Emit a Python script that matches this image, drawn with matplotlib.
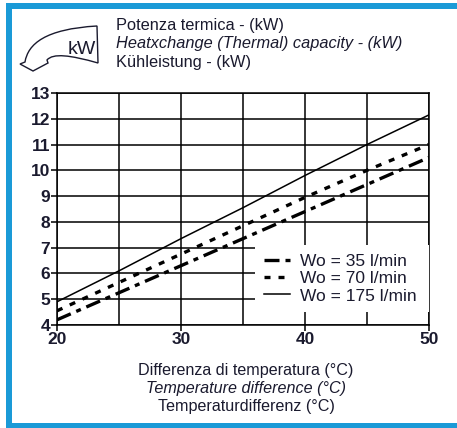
import matplotlib.pyplot as plt
from matplotlib.path import Path
from matplotlib.patches import PathPatch, Rectangle

# values
temp_diff = [20, 25, 30, 35, 40, 45, 50]
power_35 = [4.2, 5.25, 6.3, 7.35, 8.4, 9.45, 10.5]
power_70 = [4.55, 5.65, 6.75, 7.85, 8.95, 10.0, 11.0]
power_175 = [4.9, 6.1, 7.35, 8.55, 9.8, 11.0, 12.15]
series_labels = ["Wo = 35 l/min", "Wo = 70 l/min", "Wo = 175 l/min"]

title_lines = ["Potenza termica - (kW)",
               "Heatxchange (Thermal) capacity - (kW)",
               "Kühleistung - (kW)"]
xlabel_lines = ["Differenza di temperatura (°C)",
                "Temperature difference (°C)",
                "Temperaturdifferenz (°C)"]

INK = "#1a1a2e"
BLUE = "#1a9ad7"
plt.rcParams["font.family"] = ["Liberation Sans", "DejaVu Sans"]

fig = plt.figure(figsize=(4.57, 4.28), dpi=100)

# overlay in pixel coords for frame + icon
deco = fig.add_axes([0, 0, 1, 1])
deco.set_xlim(0, 457)
deco.set_ylim(428, 0)
deco.axis("off")
deco.add_patch(Rectangle((6, 3), 451, 6, color=BLUE, lw=0))
deco.add_patch(Rectangle((6, 3), 6, 425, color=BLUE, lw=0))
deco.add_patch(Rectangle((6, 423), 451, 5, color=BLUE, lw=0))

verts = [(25, 62), (28, 44), (45, 29), (97, 26),
         (98, 63),
         (70, 55), (53, 53), (47, 60),
         (48, 63), (33, 71), (20, 64), (25, 62)]
codes = [Path.MOVETO, Path.CURVE4, Path.CURVE4, Path.CURVE4,
         Path.LINETO,
         Path.CURVE4, Path.CURVE4, Path.CURVE4,
         Path.LINETO, Path.LINETO, Path.LINETO, Path.CLOSEPOLY]
deco.add_patch(PathPatch(Path(verts, codes), facecolor="white", edgecolor=INK, lw=1.0))
deco.text(82, 49, "kW", fontsize=14, color=INK, ha="center", va="center")

for i, line in enumerate(title_lines):
    deco.text(116, 25 + i * 18.5, line, fontsize=11.8, color=INK, va="center",
              style="italic" if i == 1 else "normal")
for i, line in enumerate(xlabel_lines):
    deco.text(246, 370 + i * 18.5, line, fontsize=11.6, color=INK, va="center", ha="center",
              style="italic" if i == 1 else "normal")

ax = fig.add_axes([0.1247, 0.2407, 0.814, 0.542])
ax.plot(temp_diff, power_35, color="black", lw=2.4, dashes=(4.5, 1.8, 1.5, 1.8), label=series_labels[0])
ax.plot(temp_diff, power_70, color="black", lw=2.4, dashes=(1.8, 2.4), label=series_labels[1])
ax.plot(temp_diff, power_175, color="black", lw=1.1, label=series_labels[2])

ax.set_xlim(20, 50)
ax.set_ylim(4, 13)
ax.set_xticks([20, 30, 40, 50])
ax.set_xticks([25, 35, 45], minor=True)
ax.set_yticks(range(4, 14))
ax.grid(True, which="both", color="black", lw=1.1)
ax.set_axisbelow(True)
ax.tick_params(which="both", direction="out", length=4, width=1.1, color="black",
               labelsize=12.5, labelcolor=INK, pad=1)
ax.tick_params(which="minor", length=0)
for lab in ax.get_xticklabels() + ax.get_yticklabels():
    lab.set_fontweight("bold")
for s in ax.spines.values():
    s.set_linewidth(1.1)

leg = ax.legend(loc="center left", bbox_to_anchor=(0.532, 0.2, 0.468, 0), mode="expand",
                frameon=True, fancybox=False, framealpha=1, edgecolor="none",
                fontsize=12.5, handlelength=1.5, handletextpad=0.6, labelspacing=0.13,
                borderpad=0.5, borderaxespad=0)
for t in leg.get_texts():
    t.set_color(INK)

fig.savefig("out.png", dpi=100)
